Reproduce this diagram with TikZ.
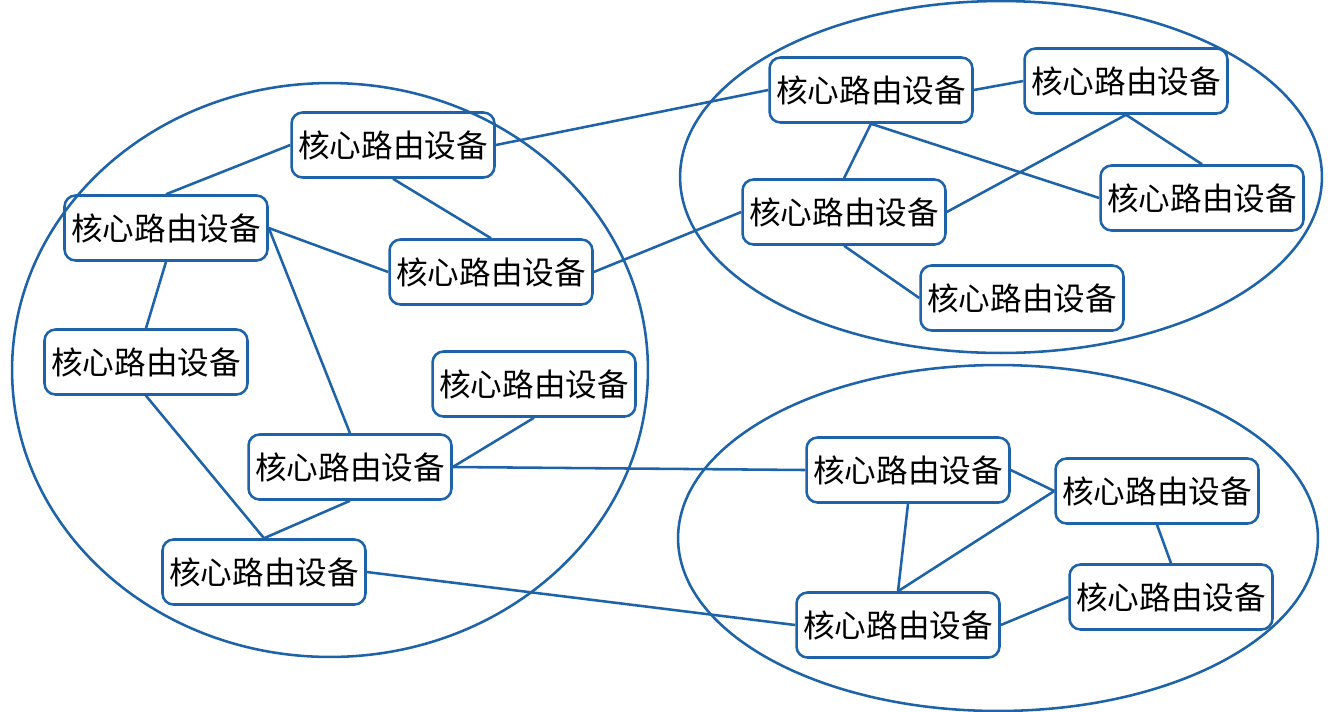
\documentclass[tikz,border=0pt]{standalone}
\usepackage{fontspec}
\newfontfamily\cjk{Noto Sans CJK SC}
\definecolor{netblue}{RGB}{30,99,168}

\begin{document}
\begin{tikzpicture}
	[x=0.02cm,y=-0.02cm,line width=1.45pt,color=netblue,
	every node/.style={rectangle, draw, rounded corners=.22cm, text=black,
		minimum width=4.06cm, minimum height=1.3cm, inner sep=0pt,
		font=\cjk\fontsize{18}{20}\selectfont}]
	\useasboundingbox (0,0) rectangle (1337,711);
	
	% three areas
	\draw (330,370) ellipse [x radius=6.36cm, y radius=5.74cm];
	\draw (1001,177) ellipse [x radius=6.42cm, y radius=3.52cm];
	\draw (998,538) ellipse [x radius=6.4cm, y radius=3.46cm];
	
	\node (n1) at (393,145) {核心路由设备};
	\node (n2) at (166,228) {核心路由设备};
	\node (n3) at (491,272) {核心路由设备};
	\node (n4) at (146,362) {核心路由设备};
	\node (n5) at (534,384) {核心路由设备};
	\node (n6) at (350,467) {核心路由设备};
	\node (n7) at (264,572) {核心路由设备};
	\node (n8) at (871,90) {核心路由设备};
	\node (n9) at (1126,81) {核心路由设备};
	\node (n10) at (844,212) {核心路由设备};
	\node (n11) at (1202,198) {核心路由设备};
	\node (n12) at (1022,298) {核心路由设备};
	\node (n13) at (908,470) {核心路由设备};
	\node (n14) at (1157,491) {核心路由设备};
	\node (n15) at (898,625) {核心路由设备};
	\node (n16) at (1171,597) {核心路由设备};
	
	\foreach \from/\to in {n1.west/n2.north,n1.south/n3.north,n2.east/n3.west,n2.east/n6.north,
		n2.south/n4.north,n4.south/n7.north,n6.south/n7.north,n6.east/n5.south,
		n1.east/n8.west,n3.east/n10.west,n6.east/n13.west,n7.east/n15.west,
		n8.east/n9.west,n8.south/n10.north,n8.south/n11.west,n10.east/n9.south,
		n9.south/n11.north,n10.south/n12.west,
		n13.east/n14.west,n13.south/n15.north,n15.north/n14.west,n14.south/n16.north,n15.east/n16.west}
	\draw[] (\from) -- (\to);
\end{tikzpicture}
\end{document}
